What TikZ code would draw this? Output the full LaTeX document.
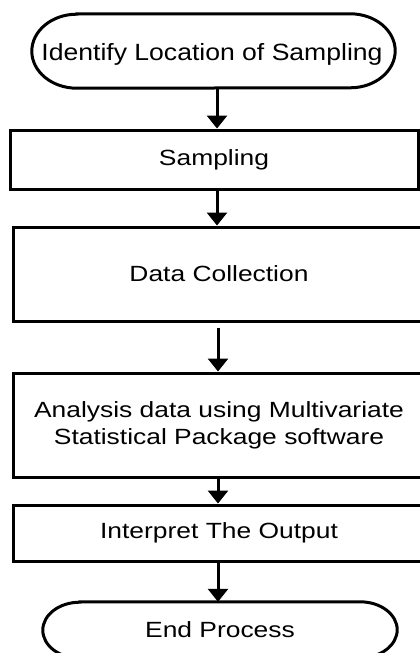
\documentclass[tikz,border=0pt]{standalone}
\usepackage{graphicx}
\usepackage{fontspec}
\setmainfont{Liberation Sans}
\usetikzlibrary{arrows.meta,calc}
\newcommand{\sx}[1]{\scalebox{1.2}[1]{#1}}
\tikzset{
  lbl/.style={inner sep=0pt, font=\fontsize{22pt}{27pt}\selectfont, align=center},
  procbox/.style={lbl, draw, line width=3pt, minimum width=412pt},
  termshape/.style={line width=3pt},
  arr/.style={line width=3pt, -{Triangle[width=20pt,length=13pt]}}
}
\begin{document}
\begin{tikzpicture}[x=1pt,y=1pt]
\useasboundingbox (0,0) rectangle (420,-653);
\clip (0,0) rectangle (420,-653);
\fill[white] (0,0) rectangle (420,-653);
% start terminator
\node[lbl, minimum width=363pt, minimum height=74pt] (start) at (213.5,-51) {};
\node[lbl, font=\fontsize{23.5pt}{28pt}\selectfont] (starttxt) at (212,-54) {\scalebox{1.13}[1]{Identify Location of Sampling}};
\draw[termshape] ([xshift=45pt]start.north west) -- ([xshift=-45pt]start.north east)
  arc[start angle=90,end angle=-90,x radius=45pt,y radius=37pt]
  -- ([xshift=45pt]start.south west)
  arc[start angle=270,end angle=90,x radius=45pt,y radius=37pt] -- cycle;
% process boxes
\node[procbox, minimum width=408pt, minimum height=59pt] (samp) at (214,-159.5) {\sx{Sampling}};
\node[procbox, minimum height=94pt] (coll) at (219,-274) {\sx{Data Collection}};
\node[procbox, minimum height=104pt] (anal) at (219,-425) {\sx{Analysis data using Multivariate}\\\sx{Statistical Package software}};
\node[procbox, minimum height=56pt] (interp) at (219,-533) {\sx{Interpret The Output}};
% end terminator
\node[lbl, minimum width=354pt, minimum height=56pt] (finish) at (220,-630) {};
\node[lbl] (finishtxt) at (220,-630) {\sx{End Process}};
\draw[termshape] ([xshift=37pt]finish.north west) -- ([xshift=-37pt]finish.north east)
  arc[start angle=90,end angle=-90,x radius=37pt,y radius=28pt]
  -- ([xshift=37pt]finish.south west)
  arc[start angle=270,end angle=90,x radius=37pt,y radius=28pt] -- cycle;
% connectors
\draw[arr] ([xshift=3.5pt]start.south) -- ([xshift=3pt]samp.north);
\draw[arr] ([xshift=3pt]samp.south) -- ([xshift=-2pt]coll.north);
\draw[arr, shorten <=5pt] ([xshift=-1pt]coll.south) -- ([xshift=-1pt]anal.north);
\draw[arr] ([xshift=-1pt]anal.south) -- ([xshift=-1pt]interp.north);
\draw[arr] ([xshift=-1pt]interp.south) -- ([xshift=-2pt]finish.north);
\end{tikzpicture}
\end{document}
